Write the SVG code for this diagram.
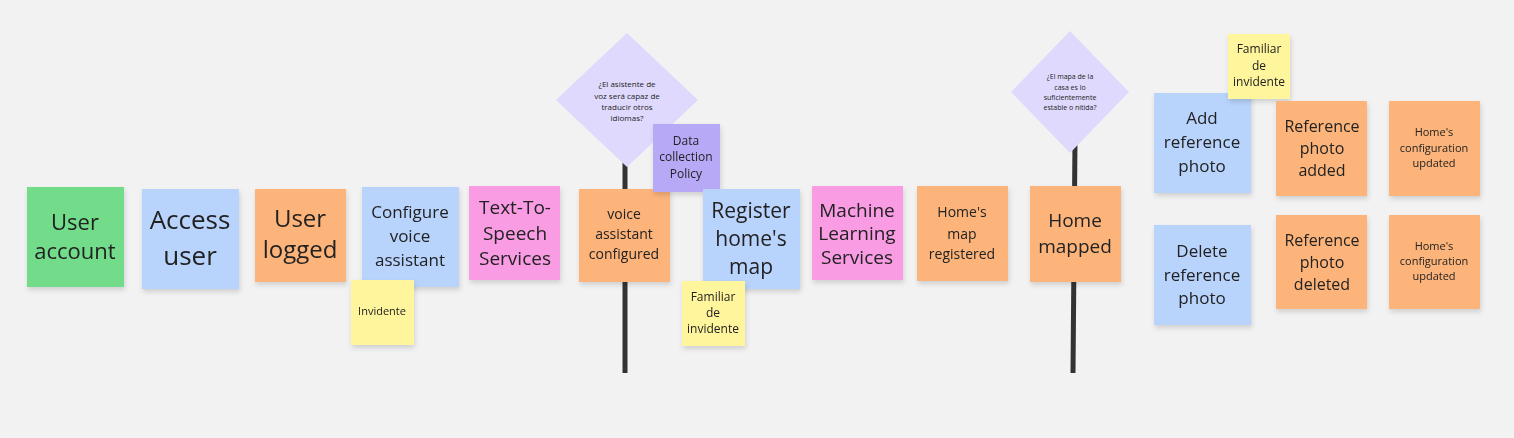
<svg xmlns="http://www.w3.org/2000/svg" width="1514" height="438" viewBox="0 0 1514 438">
<defs>
<filter id="sh" x="-10%" y="-10%" width="130%" height="130%">
<feDropShadow dx="1" dy="3" stdDeviation="2.5" flood-color="#000" flood-opacity="0.14"/>
</filter>
<style>
text{font-family:"Open Sans","Noto Sans","Liberation Sans",sans-serif;fill:#222;text-anchor:middle}
.g{fill:#72dc8b}.b{fill:#b8d3fc}.o{fill:#fdb47a}.p{fill:#f99ce4}.y{fill:#fff59c}.v{fill:#b8a9f7}.d{fill:#dfdafd}
.n{filter:url(#sh)}
.bar{stroke:#333;stroke-width:5}
</style>
</defs>
<rect width="1514" height="438" fill="#f2f2f2"/>
<g id="connectors">
<line class="bar" x1="625" y1="150" x2="625" y2="373"/>
<line class="bar" x1="1075" y1="140" x2="1073" y2="373"/>
</g>
<g id="q1"><polygon class="d" points="627,33 698,100 627,167 556,100"/>
<text font-size="8"><tspan x="627" y="87">¿El asistente de</tspan><tspan x="627" y="99">voz será capaz de</tspan><tspan x="627" y="110">traducir otros</tspan><tspan x="627" y="121">idiomas?</tspan></text></g>
<g id="q2"><polygon class="d" points="1070,31 1129,92 1070,153 1011,92"/>
<text font-size="7"><tspan x="1070" y="79">¿El mapa de la</tspan><tspan x="1070" y="90">casa es lo</tspan><tspan x="1070" y="100">suficientemente</tspan><tspan x="1070" y="110">estable o nítida?</tspan></text></g>
<g id="n1" class="n"><rect class="g" x="27" y="187" width="97" height="100"/>
<text font-size="22"><tspan x="75" y="230">User</tspan><tspan x="75" y="259">account</tspan></text></g>
<g id="n2" class="n"><rect class="b" x="142" y="189" width="97" height="100"/>
<text font-size="26"><tspan x="190" y="229">Access</tspan><tspan x="190" y="265">user</tspan></text></g>
<g id="n3" class="n"><rect class="o" x="255" y="189" width="91" height="93"/>
<text font-size="24"><tspan x="300" y="227">User</tspan><tspan x="300" y="258">logged</tspan></text></g>
<g id="n4" class="n"><rect class="b" x="362" y="187" width="97" height="100"/>
<text font-size="17"><tspan x="410" y="218">Configure</tspan><tspan x="410" y="242">voice</tspan><tspan x="410" y="266">assistant</tspan></text></g>
<g id="n5" class="n"><rect class="y" x="351" y="280" width="63" height="65"/>
<text font-size="11"><tspan x="382" y="315">Invidente</tspan></text></g>
<g id="n6" class="n"><rect class="p" x="469" y="186" width="91" height="94"/>
<text font-size="19"><tspan x="515" y="214">Text-To-</tspan><tspan x="515" y="240">Speech</tspan><tspan x="515" y="265">Services</tspan></text></g>
<g id="n7" class="n"><rect class="o" x="579" y="189" width="91" height="93"/>
<text font-size="14"><tspan x="624" y="219">voice</tspan><tspan x="624" y="239">assistant</tspan><tspan x="624" y="259">configured</tspan></text></g>
<g id="n8" class="n"><rect class="v" x="653" y="124" width="67" height="68"/>
<text font-size="12"><tspan x="686" y="145">Data</tspan><tspan x="686" y="161">collection</tspan><tspan x="686" y="178">Policy</tspan></text></g>
<g id="n9" class="n"><rect class="b" x="703" y="189" width="97" height="100"/>
<text font-size="21"><tspan x="751" y="218">Register</tspan><tspan x="751" y="246">home's</tspan><tspan x="751" y="274">map</tspan></text></g>
<g id="n10" class="n"><rect class="y" x="682" y="281" width="63" height="65"/>
<text font-size="12"><tspan x="713" y="301">Familiar</tspan><tspan x="713" y="317">de</tspan><tspan x="713" y="333">invidente</tspan></text></g>
<g id="n11" class="n"><rect class="p" x="812" y="186" width="91" height="94"/>
<text font-size="19"><tspan x="857" y="217">Machine</tspan><tspan x="857" y="240">Learning</tspan><tspan x="857" y="264">Services</tspan></text></g>
<g id="n12" class="n"><rect class="o" x="917" y="186" width="91" height="95"/>
<text font-size="14"><tspan x="962" y="217">Home's</tspan><tspan x="962" y="239">map</tspan><tspan x="962" y="259">registered</tspan></text></g>
<g id="n13" class="n"><rect class="o" x="1030" y="186" width="91" height="96"/>
<text font-size="19"><tspan x="1075" y="227">Home</tspan><tspan x="1075" y="253">mapped</tspan></text></g>
<g id="n14" class="n"><rect class="b" x="1154" y="93" width="97" height="100"/>
<text font-size="17"><tspan x="1202" y="124">Add</tspan><tspan x="1202" y="148">reference</tspan><tspan x="1202" y="172">photo</tspan></text></g>
<g id="n15" class="n"><rect class="y" x="1228" y="34" width="62" height="65"/>
<text font-size="12"><tspan x="1259" y="53">Familiar</tspan><tspan x="1259" y="70">de</tspan><tspan x="1259" y="86">invidente</tspan></text></g>
<g id="n16" class="n"><rect class="o" x="1276" y="101" width="91" height="95"/>
<text font-size="16"><tspan x="1322" y="132">Reference</tspan><tspan x="1322" y="154">photo</tspan><tspan x="1322" y="176">added</tspan></text></g>
<g id="n17" class="n"><rect class="o" x="1389" y="101" width="91" height="95"/>
<text font-size="11"><tspan x="1434" y="136">Home's</tspan><tspan x="1434" y="152">configuration</tspan><tspan x="1434" y="167">updated</tspan></text></g>
<g id="n18" class="n"><rect class="b" x="1154" y="225" width="97" height="100"/>
<text font-size="17"><tspan x="1202" y="257">Delete</tspan><tspan x="1202" y="281">reference</tspan><tspan x="1202" y="304">photo</tspan></text></g>
<g id="n19" class="n"><rect class="o" x="1276" y="215" width="91" height="94"/>
<text font-size="16"><tspan x="1322" y="246">Reference</tspan><tspan x="1322" y="268">photo</tspan><tspan x="1322" y="290">deleted</tspan></text></g>
<g id="n20" class="n"><rect class="o" x="1389" y="215" width="91" height="94"/>
<text font-size="11"><tspan x="1434" y="250">Home's</tspan><tspan x="1434" y="265">configuration</tspan><tspan x="1434" y="280">updated</tspan></text></g>
</svg>
